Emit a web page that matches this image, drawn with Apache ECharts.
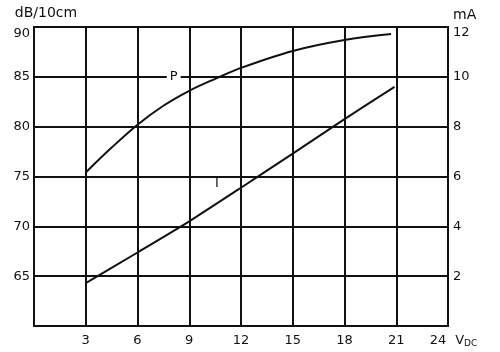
<!DOCTYPE html>
<html><head><meta charset="utf-8">
<script src="https://cdn.jsdelivr.net/npm/echarts@6/dist/echarts.min.js"></script>
<style>html,body{margin:0;padding:0;background:#fff}#c{width:500px;height:352px}</style>
</head><body><div id="c"></div>
<script>
// Data
const xTicks = [0, 3, 6, 9, 12, 15, 18, 21, 24];
const voltsP = [3, 4.5, 6, 7.5, 9, 10.5, 12, 15, 18, 20.7];
const levelP = [75.4, 77.9, 80.2, 82.1, 83.6, 84.8, 85.9, 87.6, 88.7, 89.3]; // dB/10cm
const voltsI = [3, 6, 9, 12, 15, 18, 20.9];
const currentI = [1.72, 2.95, 4.2, 5.55, 6.92, 8.3, 9.6]; // mA
const labelP = {name: 'P', x: 8.1, y: 85};
const labelI = {name: 'I', x: 10.6, y: 5.7};

const font = 'DejaVu Sans';
const black = '#111';
const pairs = (xs, ys) => xs.map((x, i) => [x, ys[i]]);

const chart = echarts.init(document.getElementById('c'), null, {renderer: 'canvas'});
chart.setOption({
  animation: false,
  backgroundColor: '#fff',
  textStyle: {fontFamily: font, color: black},
  grid: {left: 34, right: 52, top: 27, bottom: 26, show: true, borderColor: black, borderWidth: 2, backgroundColor: 'transparent'},
  xAxis: {
    type: 'value', min: 0, max: 24, interval: 3,
    axisLine: {show: true, lineStyle: {color: black, width: 2}},
    axisTick: {show: false},
    splitLine: {show: true, lineStyle: {color: black, width: 2}},
    axisLabel: {
      color: black, fontFamily: font, fontSize: 13, margin: 8,
      formatter: v => v === 0 ? '' : (v === 24 ? '{n|24}{v|V}{d|DC}' : String(v)),
      rich: {
        n: {fontFamily: font, fontSize: 13, color: black, padding: [0, 9, 0, 11]},
        v: {fontFamily: font, fontSize: 13, color: black},
        d: {fontFamily: font, fontSize: 9, color: black, padding: [5, 0, 0, 0]}
      }
    }
  },
  yAxis: [{
    type: 'value', min: 60, max: 90, interval: 5, position: 'left',
    name: 'dB/10cm', nameLocation: 'end', nameGap: 7,
    nameTextStyle: {fontFamily: font, fontSize: 14, color: black, align: 'center', padding: [0, 0, 0, 24]},
    axisLine: {show: true, lineStyle: {color: black, width: 2}},
    axisTick: {show: false},
    splitLine: {show: true, lineStyle: {color: black, width: 2}},
    axisLabel: {
      color: black, fontFamily: font, fontSize: 13, margin: 4,
      formatter: v => v === 60 ? '' : (v === 90 ? '{t|90}' : String(v)),
      rich: {t: {fontFamily: font, fontSize: 13, color: black, padding: [14, 0, 0, 0]}}
    }
  }, {
    type: 'value', min: 0, max: 12, interval: 2, position: 'right',
    name: 'mA', nameLocation: 'end', nameGap: 5,
    nameTextStyle: {fontFamily: font, fontSize: 14, color: black, align: 'left', padding: [0, 0, 0, 5]},
    axisLine: {show: true, lineStyle: {color: black, width: 2}},
    axisTick: {show: false},
    splitLine: {show: false},
    axisLabel: {
      color: black, fontFamily: font, fontSize: 13, margin: 5,
      formatter: v => v === 0 ? '' : (v === 12 ? '{t|12}' : String(v)),
      rich: {t: {fontFamily: font, fontSize: 13, color: black, padding: [12, 0, 0, 0]}}
    }
  }],
  series: [{
    name: 'P', type: 'line', yAxisIndex: 0, smooth: 0.35, showSymbol: false,
    lineStyle: {color: black, width: 2}, itemStyle: {color: black},
    data: pairs(voltsP, levelP),
    markPoint: {
      symbol: 'rect', symbolSize: 1, itemStyle: {color: 'transparent'},
      label: {show: true, position: 'inside', formatter: '{b}', fontFamily: font, fontSize: 13, color: black, backgroundColor: '#fff', padding: [1, 3]},
      data: [{name: labelP.name, coord: [labelP.x, labelP.y]}]
    }
  }, {
    name: 'I', type: 'line', yAxisIndex: 1, smooth: 0.2, showSymbol: false,
    lineStyle: {color: black, width: 2}, itemStyle: {color: black},
    data: pairs(voltsI, currentI),
    markPoint: {
      symbol: 'rect', symbolSize: 1, itemStyle: {color: 'transparent'},
      label: {show: true, position: 'inside', formatter: '{b}', fontFamily: font, fontSize: 13, color: black},
      data: [{name: labelI.name, coord: [labelI.x, labelI.y]}]
    }
  }]
});
</script></body></html>
